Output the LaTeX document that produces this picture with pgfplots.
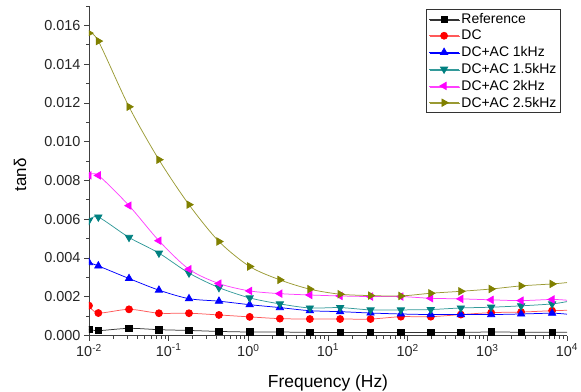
\documentclass[border=0pt]{standalone}
\usepackage{pgfplots}
\pgfplotsset{compat=1.18}
\usepackage{pgfplotstable}
\usepackage{fontspec}
\setmainfont{Liberation Sans}
\usetikzlibrary{shadows}
\definecolor{cteal}{RGB}{0,128,128}
\definecolor{colive}{RGB}{128,128,0}
\definecolor{cmag}{RGB}{255,0,255}
\pgfplotstableread{
f ref dc ac1 ac15 ac2 ac25
0.01   0.00033 0.00154 0.00376 0.00594 0.00826 0.01560
0.0131 0.00025 0.00116 0.00359 0.00611 0.00826 0.01519
0.0318 0.00037 0.00135 0.00294 0.00506 0.00670 0.01180
0.0755 0.00030 0.00115 0.00234 0.00425 0.00489 0.00907
0.180  0.00026 0.00115 0.00190 0.00322 0.00342 0.00675
0.428  0.00021 0.00106 0.00177 0.00247 0.00268 0.00485
1.04   0.00018 0.00096 0.00159 0.00194 0.00230 0.00356
2.49   0.00018 0.00087 0.00144 0.00163 0.00216 0.00287
5.92   0.00016 0.00085 0.00128 0.00142 0.00209 0.00239
14.2   0.00016 0.00085 0.00123 0.00144 0.00204 0.00213
34.2   0.00016 0.00085 0.00116 0.00132 0.00201 0.00206
82.2   0.00016 0.00097 0.00111 0.00132 0.00201 0.00204
195    0.00016 0.00097 0.00108 0.00134 0.00192 0.00218
465    0.00016 0.00108 0.00108 0.00142 0.00189 0.00228
1117   0.00018 0.00118 0.00108 0.00146 0.00184 0.00240
2655   0.00017 0.00121 0.00111 0.00153 0.00180 0.00256
6500   0.00017 0.00128 0.00115 0.00163 0.00186 0.00266
10000  0.00017 0.00130 0.00110 0.00175 0.00182 0.00273
}\datatable
\begin{document}
\begin{tikzpicture}
\useasboundingbox (-89bp,-56.5bp) rectangle (492bp,335.5bp);
\begin{axis}[
  at={(0,0)}, anchor=south west,
  scale only axis, width=478bp, height=329.5bp,
  xmode=log, xmin=0.01, xmax=10000,
  ymin=0, ymax=0.017,
  axis x line*=bottom, axis y line*=left,
  axis line style={line width=0.8pt, black!75},
  tick align=outside,
  major tick length=5bp, minor tick length=3bp,
  tick style={line width=0.7pt, black!75},
  xtick={0.01,0.1,1,10,100,1000,10000},
  xticklabels={10\textsuperscript{-2},10\textsuperscript{-1},10\textsuperscript{0},10\textsuperscript{1},10\textsuperscript{2},10\textsuperscript{3},10\textsuperscript{4}},
  ytick={0,0.002,0.004,0.006,0.008,0.010,0.012,0.014,0.016},
  minor ytick={0.001,0.003,0.005,0.007,0.009,0.011,0.013,0.015,0.017},
  scaled y ticks=false,
  yticklabel style={/pgf/number format/.cd, fixed, fixed zerofill, precision=3, assume math mode=true},
  ticklabel style={font=\fontsize{14.5}{16}\selectfont, text=black!85},
  xlabel={Frequency (Hz)}, ylabel={tanδ},
  xlabel style={font=\fontsize{17.5}{19}\selectfont, at={(axis description cs:0.5,-0.144)}, anchor=center},
  ylabel style={font=\fontsize{17}{19}\selectfont, at={(axis description cs:-0.144,0.487)}, anchor=center},
  clip marker paths=true,
  legend style={at={(0.987,0.991)}, anchor=north east, font=\fontsize{14}{15}\selectfont,
    draw=black!80, line width=0.8pt, cells={anchor=west}, row sep=1.2bp, inner sep=2bp,
    drop shadow={shadow xshift=1bp, shadow yshift=-1bp, fill=black!60, opacity=1}},
  legend image code/.code={\draw[#1, mark=none] (0bp,0bp) -- (30bp,0bp); \draw[#1, only marks] plot coordinates {(15bp,0bp)};},
  every axis plot/.append style={line width=0.75pt, smooth, mark indices={1,2,3,4,5,6,7,8,9,10,11,12,13,14,15,16,17}},
]
\addplot[black!80, mark=square*, mark size=3.2bp, mark options={fill=black, draw=black, solid}] table[x=f, y=ref] {\datatable};
\addlegendentry{Reference}
\addplot[red!65, mark=*, mark size=3.5bp, mark options={fill=red, draw=red}] table[x=f, y=dc] {\datatable};
\addlegendentry{DC}
\addplot[blue, mark=triangle*, mark size=4.2bp, mark options={fill=blue, draw=blue}] table[x=f, y=ac1] {\datatable};
\addlegendentry{DC+AC 1kHz}
\addplot[cteal!80, mark=triangle*, mark size=4.2bp, mark options={fill=cteal, draw=cteal, rotate=180}] table[x=f, y=ac15] {\datatable};
\addlegendentry{DC+AC 1.5kHz}
\addplot[cmag!75, mark=triangle*, mark size=4.2bp, mark options={fill=cmag, draw=cmag, rotate=90}] table[x=f, y=ac2] {\datatable};
\addlegendentry{DC+AC 2kHz}
\addplot[colive!80, mark=triangle*, mark size=4.2bp, mark options={fill=colive, draw=colive, rotate=-90}] table[x=f, y=ac25] {\datatable};
\addlegendentry{DC+AC 2.5kHz}
\end{axis}
\end{tikzpicture}
\end{document}
